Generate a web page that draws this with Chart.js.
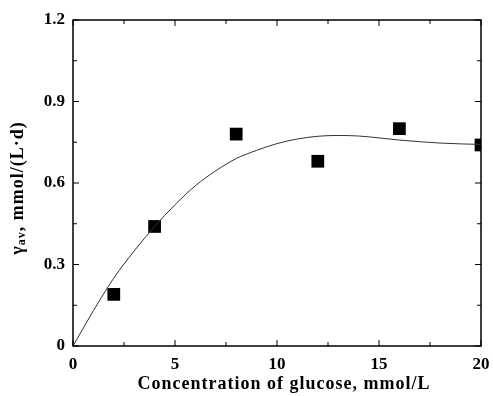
<!DOCTYPE html>
<html>
<head>
<meta charset="utf-8">
<script src="https://cdn.jsdelivr.net/npm/chart.js@4.4.0/dist/chart.umd.min.js"></script>
<style>
  html, body { margin: 0; padding: 0; background: #fff; }
  #wrap { width: 493px; height: 396px; }
</style>
</head>
<body>
<div id="wrap"><canvas id="chart" width="493" height="396"></canvas></div>
<script>
// measured points
const glucose = [2, 4, 8, 12, 16, 20];
const rate = [0.19, 0.44, 0.78, 0.68, 0.80, 0.74];

// fitted curve
const curveX = [0, 1, 2, 3, 4, 5, 6, 7, 8, 9, 10, 11, 12, 13, 14, 15, 16, 17, 18, 19, 20];
const curveY = [0, 0.13, 0.25, 0.35, 0.44, 0.52, 0.59, 0.645, 0.69, 0.72, 0.745, 0.762, 0.772, 0.775, 0.773, 0.766, 0.758, 0.752, 0.747, 0.744, 0.742];

const xTicks = [0, 5, 10, 15, 20];
const yTicks = [0, 0.3, 0.6, 0.9, 1.2];

const xTitle = 'Concentration of glucose, mmol/L';
const yTitle = [['γ', 'main'], ['av', 'sub'], [', mmol/(L·d)', 'main']];

const serif = '"Liberation Serif", "Times New Roman", serif';

// draws text pieces centred on (0,0) with letter spacing
function drawPieces(ctx, pieces, spacing) {
  const fonts = { main: 'bold 18px ' + serif, sub: 'bold 12px ' + serif };
  const shift = { main: 0, sub: 4 };
  ctx.letterSpacing = spacing + 'px';
  let w = 0;
  pieces.forEach(p => { ctx.font = fonts[p[1]]; w += ctx.measureText(p[0]).width; });
  let cx = -w / 2;
  ctx.textAlign = 'left';
  ctx.textBaseline = 'middle';
  pieces.forEach(p => {
    ctx.font = fonts[p[1]];
    ctx.fillText(p[0], cx, shift[p[1]]);
    cx += ctx.measureText(p[0]).width;
  });
}

// inward ticks, frame and axis titles
const frameTicks = {
  id: 'frameTicks',
  afterDraw(chart) {
    const { ctx, chartArea: a, scales: { x, y } } = chart;
    ctx.save();
    ctx.strokeStyle = '#000';
    ctx.lineWidth = 1.5;
    ctx.strokeRect(a.left, a.top, a.right - a.left, a.bottom - a.top);
    ctx.lineWidth = 1;
    ctx.beginPath();
    for (let v = 0; v <= 20; v += 2.5) {
      const px = x.getPixelForValue(v);
      const len = v % 5 === 0 ? 6 : 4;
      ctx.moveTo(px, a.bottom); ctx.lineTo(px, a.bottom - len);
      ctx.moveTo(px, a.top); ctx.lineTo(px, a.top + len);
    }
    for (let i = 0; i <= 8; i++) {
      const py = y.getPixelForValue(i * 0.15);
      const len = i % 2 === 0 ? 6 : 4;
      ctx.moveTo(a.left, py); ctx.lineTo(a.left + len, py);
      ctx.moveTo(a.right, py); ctx.lineTo(a.right - len, py);
    }
    ctx.stroke();
    ctx.fillStyle = '#000';

    ctx.save();
    ctx.translate(284, 384);
    drawPieces(ctx, [[xTitle, 'main']], 1);
    ctx.restore();

    ctx.translate(18, 188);
    ctx.rotate(-Math.PI / 2);
    drawPieces(ctx, yTitle, 1);
    ctx.restore();
  }
};

new Chart(document.getElementById('chart'), {
  type: 'scatter',
  data: {
    datasets: [
      {
        label: 'fit',
        data: curveX.map((v, i) => ({ x: v, y: curveY[i] })),
        showLine: true,
        borderColor: '#333',
        borderWidth: 1,
        pointRadius: 0,
        cubicInterpolationMode: 'monotone'
      },
      {
        label: 'measured',
        data: glucose.map((v, i) => ({ x: v, y: rate[i] })),
        pointStyle: 'rect',
        pointRadius: 9,
        backgroundColor: '#000',
        borderColor: '#000',
        borderWidth: 0
      }
    ]
  },
  options: {
    responsive: false,
    animation: false,
    layout: { padding: { top: 20, right: 12, left: 0, bottom: 0 } },
    plugins: { legend: { display: false }, tooltip: { enabled: false } },
    scales: {
      x: {
        min: 0, max: 20,
        afterFit(s) { s.height = 50; s.paddingLeft = 0; s.paddingRight = 0; },
        afterBuildTicks(s) { s.ticks = xTicks.map(v => ({ value: v })); },
        grid: { display: false, drawTicks: false },
        border: { display: false },
        ticks: { color: '#000', font: { family: serif, size: 17, weight: 'bold' }, padding: 8 }
      },
      y: {
        min: 0, max: 1.2,
        afterFit(s) { s.width = 73; s.paddingTop = 0; s.paddingBottom = 0; },
        afterBuildTicks(s) { s.ticks = yTicks.map(v => ({ value: v })); },
        grid: { display: false, drawTicks: false },
        border: { display: false },
        ticks: {
          color: '#000',
          font: { family: serif, size: 17, weight: 'bold' },
          padding: 8,
          callback: v => String(Math.round(v * 10) / 10)
        }
      }
    }
  },
  plugins: [frameTicks]
});
</script>
</body>
</html>
